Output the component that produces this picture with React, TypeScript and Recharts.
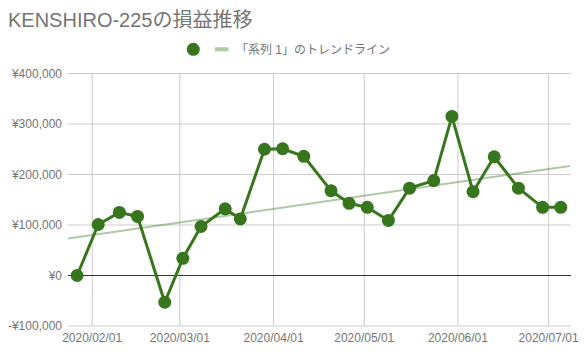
import React from "react";
import { ComposedChart, Line, XAxis, YAxis, CartesianGrid, ReferenceLine } from "recharts";

const title = "KENSHIRO-225の損益推移";
const trendLabel = "「系列 1」のトレンドライン";

const dates = [
  "2020-01-27", "2020-02-03", "2020-02-10", "2020-02-16", "2020-02-25", "2020-03-02",
  "2020-03-08", "2020-03-16", "2020-03-21", "2020-03-29", "2020-04-04", "2020-04-11",
  "2020-04-20", "2020-04-26", "2020-05-02", "2020-05-09", "2020-05-16", "2020-05-24",
  "2020-05-30", "2020-06-06", "2020-06-13", "2020-06-21", "2020-06-29", "2020-07-05",
];
const values = [
  0, 101000, 125000, 117000, -53000, 34000,
  97000, 132000, 112000, 250000, 251000, 236000,
  168000, 143000, 135000, 109000, 173000, 188000,
  315000, 166000, 235000, 173000, 135000, 135000,
];

const trendDates = ["2020-01-24", "2020-07-08"];
const trendValues = [73000, 217000];

const xTickDates = ["2020-02-01", "2020-03-01", "2020-04-01", "2020-05-01", "2020-06-01", "2020-07-01"];
const xTickLabels = ["2020/02/01", "2020/03/01", "2020/04/01", "2020/05/01", "2020/06/01", "2020/07/01"];
const yTicks = [-100000, 0, 100000, 200000, 300000, 400000];
const yTickLabels = ["-¥100,000", "¥0", "¥100,000", "¥200,000", "¥300,000", "¥400,000"];

const BASE = Date.UTC(2020, 1, 1);
const toDay = (s: string) => {
  const [y, m, d] = s.split("-").map(Number);
  return (Date.UTC(y, m - 1, d) - BASE) / 86400000;
};

const seriesData = dates.map((d, i) => ({ x: toDay(d), y: values[i] }));
const trendData = trendDates.map((d, i) => ({ x: toDay(d), y: trendValues[i] }));
const xTicks = xTickDates.map(toDay);

const FONT = '"Liberation Sans", Arial, "Noto Sans CJK JP", sans-serif';
const GREEN = "#38761d";
const GRAY = "#757575";

export default function App() {
  return (
    <div style={{ position: "absolute", left: 0, top: 0, width: 584, height: 355, background: "#fff" }}>
      <div style={{ position: "absolute", left: 0, top: 0 }}>
        <ComposedChart width={584} height={355} margin={{ top: 73.5, right: 13, bottom: 0, left: 0 }}>
          <CartesianGrid stroke="#cccccc" horizontalValues={yTicks} verticalValues={xTicks} />
          <XAxis
            type="number"
            dataKey="x"
            domain={[-8, 158.4]}
            ticks={xTicks}
            allowDataOverflow
            height={29}
            axisLine={false}
            tickLine={false}
            tickSize={0}
            tickMargin={7.5}
            tickFormatter={(v: number) => xTickLabels[xTicks.indexOf(v)] ?? ""}
            tick={{ fill: GRAY, fontSize: 12, fontFamily: FONT }}
            interval={0}
          />
          <YAxis
            type="number"
            dataKey="y"
            domain={[-100000, 400000]}
            ticks={yTicks}
            allowDataOverflow
            width={68}
            axisLine={false}
            tickLine={false}
            tickSize={0}
            tickMargin={6}
            tickFormatter={(v: number) => yTickLabels[yTicks.indexOf(v)] ?? ""}
            tick={{ fill: GRAY, fontSize: 12, fontFamily: FONT }}
            interval={0}
          />
          <ReferenceLine y={0} stroke="#333333" strokeWidth={1} />
          <Line
            data={trendData}
            dataKey="y"
            stroke={GREEN}
            strokeOpacity={0.4}
            strokeWidth={2}
            dot={false}
            activeDot={false}
            isAnimationActive={false}
            legendType="none"
          />
          <Line
            data={seriesData}
            dataKey="y"
            stroke={GREEN}
            strokeWidth={3}
            dot={{ r: 6.5, fill: GREEN, stroke: "none" }}
            activeDot={false}
            isAnimationActive={false}
          />
        </ComposedChart>
      </div>
      <svg width={584} height={64} style={{ position: "absolute", left: 0, top: 0 }}>
        <text x={8} y={26.5} fontFamily={FONT} fontSize={20} fill={GRAY}>{title}</text>
        <circle cx={193.3} cy={49.3} r={6.5} fill={GREEN} />
        <line x1={215} y1={49.3} x2={228.5} y2={49.3} stroke={GREEN} strokeOpacity={0.4} strokeWidth={4} />
        <text x={236} y={53.5} fontFamily={FONT} fontSize={12} fill={GRAY}>{trendLabel}</text>
      </svg>
    </div>
  );
}
